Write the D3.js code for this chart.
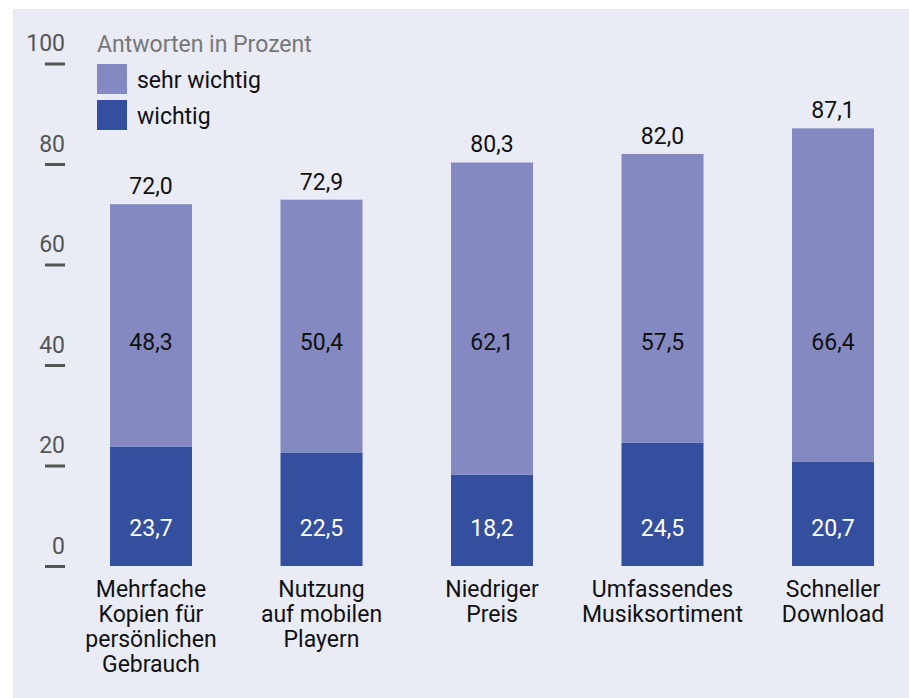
<!DOCTYPE html>
<html>
<head>
<meta charset="utf-8">
<script src="https://cdn.jsdelivr.net/npm/d3@7"></script>
<style>
  body { margin: 0; background: #fff; }
  text { font-family: Roboto, "Liberation Sans", sans-serif; }
</style>
</head>
<body>
<div id="chart"></div>
<script>
var svgWidth = 909;
var svgHeight = 698;

// data
var categories = [
  ["Mehrfache", "Kopien für", "persönlichen", "Gebrauch"],
  ["Nutzung", "auf mobilen", "Playern"],
  ["Niedriger", "Preis"],
  ["Umfassendes", "Musiksortiment"],
  ["Schneller", "Download"]
];
var wichtig = [23.7, 22.5, 18.2, 24.5, 20.7];
var sehrWichtig = [48.3, 50.4, 62.1, 57.5, 66.4];
var totals = [72.0, 72.9, 80.3, 82.0, 87.1];
var yTicks = [0, 20, 40, 60, 80, 100];
var legendLabels = ["sehr wichtig", "wichtig"];

var colorLight = "#8489c2";
var colorDark = "#344f9e";

var fmt = function(v) { return v.toFixed(1).replace(".", ","); };

var svg = d3.select("#chart")
  .append("svg")
  .attr("width", svgWidth)
  .attr("height", svgHeight);

// background panel
svg.append("rect")
  .attr("x", 13)
  .attr("y", 9)
  .attr("width", svgWidth - 13)
  .attr("height", svgHeight - 9)
  .attr("fill", "#e9ebf5");

var x = d3.scaleBand()
  .domain(d3.range(categories.length))
  .range([65.75, 918.25])
  .paddingInner(0.519)
  .paddingOuter(0.2595);

var y = d3.scaleLinear()
  .domain([0, 100])
  .range([566, 63.5]);

// y axis: short dashes with labels above
var yAxis = svg.append("g")
  .attr("transform", "translate(65,0)")
  .call(d3.axisLeft(y).tickValues(yTicks).tickSize(20).tickFormat(d3.format("d")));
yAxis.select(".domain").remove();
yAxis.selectAll(".tick line")
  .attr("stroke", "#555")
  .attr("stroke-width", 3);
yAxis.selectAll(".tick text")
  .attr("x", 0)
  .attr("dy", "-0.55em")
  .attr("fill", "#555")
  .attr("font-size", "23px")
  .attr("font-family", "Roboto, sans-serif")
  .attr("text-anchor", "end");

// bars
var idx = d3.range(categories.length);

svg.selectAll(".bar-dark")
  .data(idx)
  .enter()
  .append("rect")
  .attr("class", "bar-dark")
  .attr("x", i => x(i))
  .attr("width", x.bandwidth())
  .attr("y", i => y(wichtig[i]))
  .attr("height", i => y(0) - y(wichtig[i]))
  .attr("fill", colorDark);

svg.selectAll(".bar-light")
  .data(idx)
  .enter()
  .append("rect")
  .attr("class", "bar-light")
  .attr("x", i => x(i))
  .attr("width", x.bandwidth())
  .attr("y", i => y(wichtig[i] + sehrWichtig[i]))
  .attr("height", i => y(wichtig[i]) - y(wichtig[i] + sehrWichtig[i]))
  .attr("fill", colorLight);

// value labels
svg.selectAll(".lbl-dark")
  .data(idx)
  .enter()
  .append("text")
  .attr("x", i => x(i) + x.bandwidth() / 2)
  .attr("y", y(5.9))
  .attr("text-anchor", "middle")
  .attr("font-size", "23px")
  .attr("fill", "#fff")
  .text(i => fmt(wichtig[i]));

svg.selectAll(".lbl-light")
  .data(idx)
  .enter()
  .append("text")
  .attr("x", i => x(i) + x.bandwidth() / 2)
  .attr("y", y(42.9))
  .attr("text-anchor", "middle")
  .attr("font-size", "23px")
  .attr("fill", "#111")
  .text(i => fmt(sehrWichtig[i]));

svg.selectAll(".lbl-total")
  .data(idx)
  .enter()
  .append("text")
  .attr("x", i => x(i) + x.bandwidth() / 2)
  .attr("y", i => y(totals[i]) - 10)
  .attr("text-anchor", "middle")
  .attr("font-size", "23px")
  .attr("fill", "#111")
  .text(i => fmt(totals[i]));

// category labels
var catGroup = svg.selectAll(".cat")
  .data(idx)
  .enter()
  .append("text")
  .attr("class", "cat")
  .attr("text-anchor", "middle")
  .attr("font-size", "23px")
  .attr("fill", "#111");

catGroup.selectAll("tspan")
  .data(i => categories[i].map(l => ({ i: i, l: l })))
  .enter()
  .append("tspan")
  .attr("x", d => x(d.i) + x.bandwidth() / 2)
  .attr("y", (d, j) => 597 + j * 25)
  .text(d => d.l);

// legend
svg.append("text")
  .attr("x", 97)
  .attr("y", 52)
  .attr("font-size", "23px")
  .attr("fill", "#777")
  .text("Antworten in Prozent");

var legend = svg.selectAll(".legend")
  .data(legendLabels)
  .enter()
  .append("g")
  .attr("transform", (d, i) => `translate(97, ${64 + i * 36})`);

legend.append("rect")
  .attr("width", 30)
  .attr("height", 30)
  .attr("fill", (d, i) => i === 0 ? colorLight : colorDark);

legend.append("text")
  .attr("x", 40)
  .attr("y", 24)
  .attr("font-size", "23px")
  .attr("fill", "#111")
  .text(d => d);
</script>
</body>
</html>
